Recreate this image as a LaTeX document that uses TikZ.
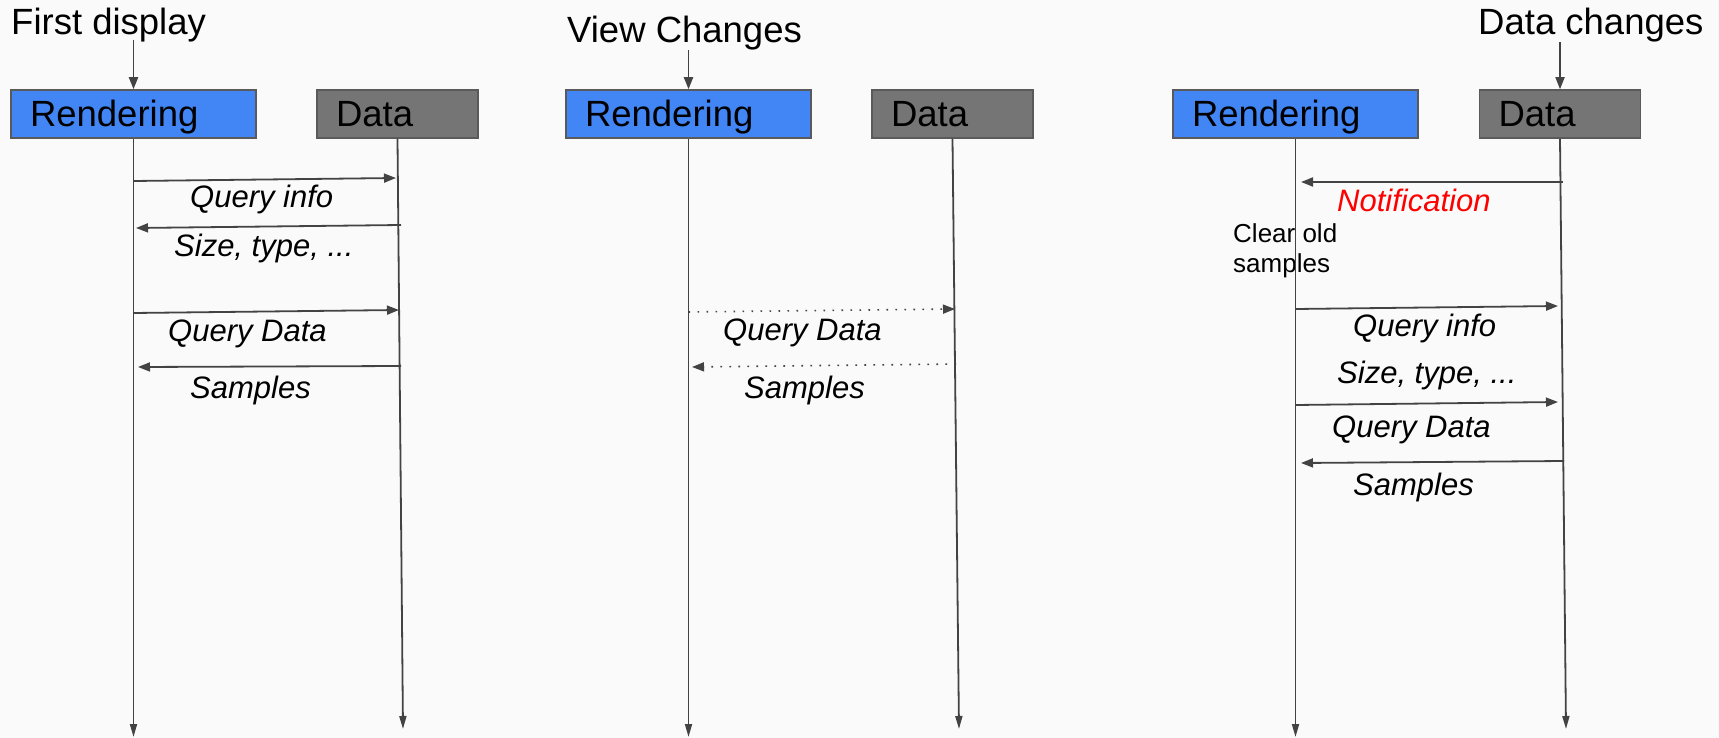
\documentclass[tikz,border=0pt]{standalone}
\usepackage{fontspec}
\setmainfont{Liberation Sans}
\usetikzlibrary{arrows.meta}
\definecolor{bggray}{HTML}{FAFAFA}
\definecolor{rendblue}{HTML}{4285F4}
\definecolor{datagray}{HTML}{757575}
\definecolor{edgegray}{HTML}{5A5A5A}
\definecolor{linegray}{HTML}{434343}
\definecolor{notered}{HTML}{FF0000}

\begin{document}
\begin{tikzpicture}[x=1pt,y=-1pt,
    box/.style={draw=edgegray,line width=1.5pt,minimum height=48pt,inner xsep=19pt,inner ysep=0pt,text height=26pt,text depth=0pt,align=left,font=\fontsize{36.5}{44}\selectfont},
    rendbox/.style={box,fill=rendblue,text width=207pt},
    databox/.style={box,fill=datagray,text width=123pt},
    title/.style={anchor=base west,inner sep=0pt,font=\fontsize{36.5}{44}\selectfont},
    msg/.style={anchor=base west,inner sep=0pt,font=\fontsize{31}{37}\selectfont\itshape},
    flow/.style={draw=linegray,line width=1.8pt,-{Triangle[length=12pt,width=9pt]}},
    life/.style={draw=linegray,line width=1.8pt,-{Triangle[length=13pt,width=7pt]}},
    lazy/.style={flow,line width=1.6pt,dash pattern=on 1.6pt off 7.4pt}]

    \fill[bggray] (0,0) rectangle (1719,738);

    % first display
    \node[title] (T1) at (11,35) {First display};
    \node[rendbox] (R1) at (133.5,114) {Rendering};
    \node[databox] (D1) at (397.5,114) {Data};
    \coordinate (t1) at (133.5,40);
    \coordinate (R1end) at (133.5,737);
    \coordinate (D1end) at (403,729);

    \draw[flow] (t1) -- (R1.north);
    \draw[life] (R1.south) -- (R1end);
    \draw[life] (D1.south) -- (D1end);

    \coordinate (a1) at (133.5,181); \coordinate (b1) at (396,178);
    \coordinate (a2) at (401,225);   \coordinate (b2) at (136,228);
    \coordinate (a3) at (133.5,313); \coordinate (b3) at (399,310);
    \coordinate (a4) at (401,366);   \coordinate (b4) at (138,367);
    \draw[flow] (a1) -- (b1);
    \draw[flow] (a2) -- (b2);
    \draw[flow] (a3) -- (b3);
    \draw[flow] (a4) -- (b4);
    \node[msg] (m1) at (190,208) {Query info};
    \node[msg] (m2) at (174,257) {Size, type, ...};
    \node[msg] (m3) at (168,341) {Query Data};
    \node[msg] (m4) at (190,398) {Samples};

    % view changes
    \node[title] (T2) at (567,43) {View Changes};
    \node[rendbox] (R2) at (688.5,114) {Rendering};
    \node[databox] (D2) at (952.5,114) {Data};
    \coordinate (t2) at (688.5,50);
    \coordinate (R2end) at (688.5,737);
    \coordinate (D2end) at (959,729);

    \draw[flow] (t2) -- (R2.north);
    \draw[life] (R2.south) -- (R2end);
    \draw[life] (D2.south) -- (D2end);

    \coordinate (a5) at (688.5,312); \coordinate (b5) at (955,309);
    \coordinate (a6) at (956,364);   \coordinate (b6) at (692,367);
    \draw[lazy] (a5) -- (b5);
    \draw[lazy] (a6) -- (b6);
    \node[msg] (m5) at (723,340) {Query Data};
    \node[msg] (m6) at (744,398) {Samples};

    % data changes
    \node[title] (T3) at (1478,35) {Data changes};
    \node[rendbox] (R3) at (1295.5,114) {Rendering};
    \node[databox] (D3) at (1560,114) {Data};
    \coordinate (t3) at (1560,42);
    \coordinate (R3end) at (1295.5,737);
    \coordinate (D3end) at (1566,729);

    \node[anchor=base west,inner sep=0pt,font=\fontsize{26}{30}\selectfont] (clr) at (1233,243) {\begin{tabular}[t]{@{}l@{}}Clear old\\samples\end{tabular}};

    \draw[flow] (t3) -- (D3.north);
    \draw[life] (R3.south) -- (R3end);
    \draw[life] (D3.south) -- (D3end);

    \coordinate (a7) at (1563,182);    \coordinate (b7) at (1301,182);
    \coordinate (a8) at (1295.5,309);  \coordinate (b8) at (1558,306);
    \coordinate (a9) at (1295.5,405);  \coordinate (b9) at (1558,402);
    \coordinate (a10) at (1564,461);   \coordinate (b10) at (1301,463);
    \draw[flow] (a7) -- (b7);
    \draw[flow] (a8) -- (b8);
    \draw[flow] (a9) -- (b9);
    \draw[flow] (a10) -- (b10);
    \node[msg,text=notered] (m7) at (1337,212) {Notification};
    \node[msg] (m8) at (1353,336) {Query info};
    \node[msg] (m9) at (1337,383) {Size, type, ...};
    \node[msg] (m10) at (1332,437) {Query Data};
    \node[msg] (m11) at (1353,495) {Samples};

\end{tikzpicture}
\end{document}
